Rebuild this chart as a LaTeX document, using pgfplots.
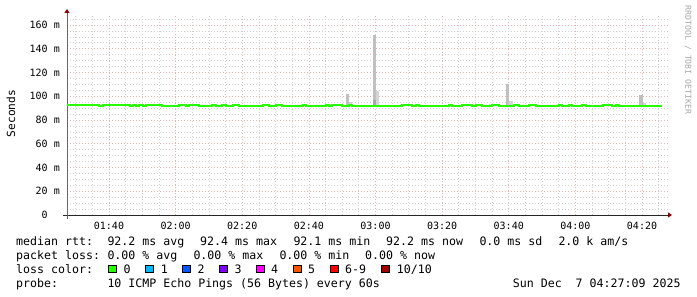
\documentclass[border=0pt]{standalone}
\usepackage{fontspec}
\setmonofont{DejaVu Sans Mono}
\usepackage{pgfplots}
\pgfplotsset{compat=1.18}
\usetikzlibrary{arrows.meta}
\definecolor{medgreen}{HTML}{26FF00}
\definecolor{majgrid}{RGB}{236,176,176}
\definecolor{mingrid}{RGB}{208,208,208}
\definecolor{arrowred}{RGB}{140,0,0}
\definecolor{smokeA}{RGB}{192,192,192}
\definecolor{smokeB}{RGB}{212,212,212}
\definecolor{smokeC}{RGB}{168,168,168}
\definecolor{lc0}{HTML}{26FF00}
\definecolor{lc1}{HTML}{00B8FF}
\definecolor{lc2}{HTML}{0059FF}
\definecolor{lc3}{HTML}{7E00FF}
\definecolor{lc4}{HTML}{FF00FF}
\definecolor{lc5}{HTML}{FF5500}
\definecolor{lc6}{HTML}{FF0000}
\definecolor{lc7}{HTML}{A10000}
\newcommand\lf{\ttfamily\fontsize{11.6}{14}\selectfont}
\newcommand\tf{\ttfamily\fontsize{10}{12}\selectfont}
\begin{document}
\begin{tikzpicture}[x=1pt,y=1pt]
\begin{axis}[
  at={(67pt,82pt)}, anchor=south west,
  scale only axis, width=601pt, height=201pt,
  xmin=87.4, xmax=267.8, ymin=0, ymax=169.3,
  xtick={100,120,...,260},
  xticklabels={01:40,02:00,02:20,02:40,03:00,03:20,03:40,04:00,04:20},
  ytick={0,20,...,160},
  yticklabels={0\phantom{mm},20 m,40 m,60 m,80 m,100 m,120 m,140 m,160 m},
  minor xtick={90,95,...,265},
  minor ytick={5,10,...,165},
  grid=both,
  major grid style={dash pattern=on 1pt off 2pt, color=majgrid, line width=0.7pt},
  minor grid style={dash pattern=on 1pt off 2pt, color=mingrid, line width=0.7pt},
  axis x line=bottom, axis y line=left,
  x axis line style={black!85, line width=0.8pt, shorten <=-4pt, shorten >=-4pt, -{Triangle[length=4pt,width=5pt,color=arrowred]}},
  y axis line style={black!60, line width=0.8pt, shorten <=-4pt, shorten >=-5pt, -{Triangle[length=4pt,width=5pt,color=arrowred]}},
  major tick length=0pt, minor tick length=0pt,
  xticklabel style={font=\tf, inner sep=0pt, anchor=north},
  yticklabel style={font=\tf, inner sep=0pt, anchor=east},
  xticklabel shift=6.5pt,
  yticklabel shift=7pt,
]
% smoke
\addplot[fill=smokeA, draw=none] coordinates {(171.1,92.1)(171.1,101.9)(172.0,101.9)(172.0,92.1)};
\addplot[fill=smokeB, draw=none] coordinates {(172.0,92.1)(172.0,95.0)(172.9,95.0)(172.9,92.1)};
\addplot[fill=smokeA, draw=none] coordinates {(179.2,92.1)(179.2,151.6)(180.1,151.6)(180.1,92.1)};
\addplot[fill=smokeC, draw=none] coordinates {(179.2,92.1)(179.2,96.5)(180.1,96.5)(180.1,92.1)};
\addplot[fill=smokeB, draw=none] coordinates {(180.1,92.1)(180.1,104.7)(181.0,104.7)(181.0,92.1)};
\addplot[fill=smokeB, draw=none] coordinates {(214.0,92.1)(214.0,93.7)(215.2,93.7)(215.2,92.1)};
\addplot[fill=smokeA, draw=none] coordinates {(219.1,92.1)(219.1,110.0)(220.0,110.0)(220.0,92.1)};
\addplot[fill=smokeB, draw=none] coordinates {(220.0,92.1)(220.0,96.0)(221.2,96.0)(221.2,92.1)};
\addplot[fill=smokeA, draw=none] coordinates {(259.0,92.1)(259.0,101.0)(260.2,101.0)(260.2,92.1)};
\addplot[fill=smokeB, draw=none] coordinates {(260.2,92.1)(260.2,94.5)(261.1,94.5)(261.1,92.1)};
% median
\addplot[const plot, color=medgreen, line width=2.3pt] coordinates {
(87.4,92.9) (97,92.1) (98.2,92.9) (106.3,92.1) (107.2,92.9) (108.1,92.1)
(109,92.9) (110.2,92.1) (111.1,92.9) (115.9,92.1) (121,92.9) (123.1,92.1)
(124,92.9) (127,92.1) (130.9,92.9) (132.1,92.1) (133.9,92.9) (135.1,92.1)
(137.2,92.9) (139,92.1) (146.2,92.9) (148,92.1) (150.1,92.9) (151.9,92.1)
(158.2,92.9) (159.1,92.1) (165.1,92.9) (166,92.1) (166.9,92.9) (169.9,92.1)
(172,92.9) (172.9,92.1) (187.9,92.9) (190.9,92.1) (192.1,92.9) (193,92.1)
(202,92.9) (202.9,92.1) (205.9,92.9) (208.9,92.1) (210.1,92.9) (211.9,92.1)
(214.9,92.9) (217,92.1) (221.5,92.9) (223,92.1) (226,92.9) (228.1,92.1)
(235,92.9) (235.9,92.1) (238,92.9) (238.9,92.1) (241.9,92.9) (243.1,92.1)
(248.2,92.9) (251,92.1) (252.1,92.9) (253,92.1) (266.1,92.1)};
\end{axis}
% labels
\node[rotate=90, font=\ttfamily\fontsize{11.2}{13}\selectfont, inner sep=0pt] at (11,183.5) {Seconds};
\node[rotate=-90, font=\ttfamily\fontsize{8.2}{10}\selectfont, inner sep=0pt, text=black!35] at (688,237) {RRDTOOL / TOBI OETIKER};
\begin{scope}[every node/.style={font=\lf, inner sep=0pt, anchor=base west}]
\node at (16,51.7) {median rtt:};
\node at (107.3,51.7) {92.2 ms avg};
\node at (200,51.7) {92.4 ms max};
\node at (293.3,51.7) {92.1 ms min};
\node at (386,51.7) {92.2 ms now};
\node at (479.3,51.7) {0.0 ms sd};
\node at (558.3,51.7) {2.0 k am/s};
\node at (16,37.7) {packet loss:};
\node at (107.3,37.7) {0.00 \% avg};
\node at (193.3,37.7) {0.00 \% max};
\node at (279.3,37.7) {0.00 \% min};
\node at (365,37.7) {0.00 \% now};
\node at (16,23.7) {loss color:};
\node at (123.3,23.7) {0};
\node at (160.7,23.7) {1};
\node at (197.3,23.7) {2};
\node at (234.3,23.7) {3};
\node at (271,23.7) {4};
\node at (308,23.7) {5};
\node at (345,23.7) {6-9};
\node at (396.7,23.7) {10/10};
\node at (16,9.7) {probe:};
\node at (107.3,9.7) {10 ICMP Echo Pings (56 Bytes) every 60s};
\node[anchor=base east] at (680.7,9.7) {Sun Dec\ \ 7 04:27:09 2025};
\end{scope}
\foreach \bx/\c in {108.3/lc0,145.7/lc1,182.7/lc2,219.7/lc3,256.7/lc4,293.7/lc5,330.7/lc6,381.7/lc7}{
  \draw[fill=\c, draw=black, line width=0.7pt] (\bx,24.5) rectangle ++(7.6,7.6);
}
\pgfresetboundingbox
\useasboundingbox (0,0) rectangle (697,297);
\end{tikzpicture}
\end{document}
